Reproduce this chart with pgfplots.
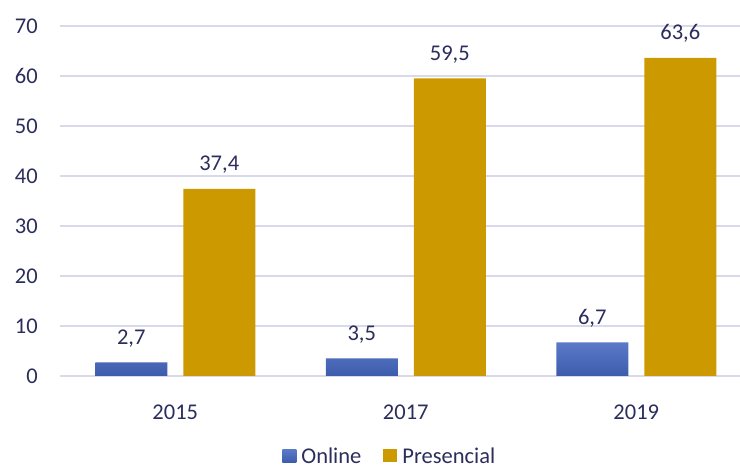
\documentclass[border=0pt]{standalone}
\usepackage{pgfplots}
\pgfplotsset{compat=1.18}
\usepackage{fontspec}
\setmainfont{Carlito}
\definecolor{txt}{HTML}{2B2E5C}
\definecolor{gridc}{HTML}{D9D9EC}
\definecolor{gold}{HTML}{CC9900}
\definecolor{blueT}{HTML}{5C79C9}
\definecolor{blueB}{HTML}{3C5CAB}
\begin{document}
\begin{tikzpicture}[x=1pt,y=1pt]
\path[use as bounding box] (0,0) rectangle (740,468);
\begin{axis}[
  at={(60pt,92pt)}, anchor=south west,
  scale only axis, width=680pt, height=350pt,
  ymin=0, ymax=70, xmin=-0.5, xmax=2.45,
  ybar=16pt, bar width=72pt,
  ytick={0,10,...,70},
  xtick={0,1,2}, xticklabels={2015,2017,2019},
  ymajorgrids, grid style={gridc, line width=1.3pt},
  axis line style={draw=none},
  major tick style={draw=none},
  clip=false,
  /pgf/number format/assume math mode=true,
  /pgf/number format/use comma,
  /pgf/number format/fixed, /pgf/number format/fixed zerofill,
  /pgf/number format/precision=1,
  font=\fontsize{22.5}{26}\selectfont,
  ticklabel style={text=txt, font=\fontsize{22.5}{26}\selectfont, inner sep=0pt},
  yticklabel style={/pgf/number format/precision=0, /pgf/number format/fixed zerofill=false},
  yticklabel shift=22pt,
  xticklabel shift=24pt,
  nodes near coords,
  every node near coord/.append style={text=txt, anchor=base, inner sep=0pt, yshift=18pt, font=\fontsize{22.5}{26}\selectfont},
  legend columns=2,
  legend style={draw=none, fill=none, at={(0.485,-0.23)}, anchor=center,
    text=txt, font=\fontsize{22.5}{26}\selectfont,
    /tikz/every even column/.append style={column sep=20pt},
    /tikz/every odd column/.append style={column sep=3pt}},
  legend image code/.code={\path[#1,draw=none] (0pt,-6pt) rectangle (14pt,7pt);},
]
\addplot[draw=none, top color=blueT, bottom color=blueB] coordinates {(0,2.7) (1,3.5) (2,6.7)};
\addplot[draw=none, fill=gold] coordinates {(0,37.4) (1,59.5) (2,63.6)};
\legend{Online, Presencial}
\end{axis}
\end{tikzpicture}
\end{document}
